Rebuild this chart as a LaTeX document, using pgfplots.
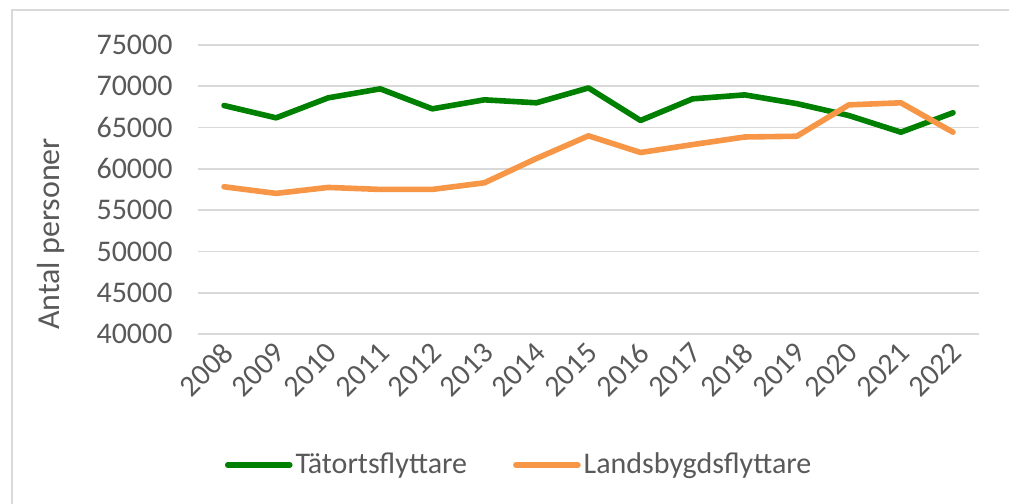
\documentclass[border=0pt]{standalone}
\usepackage{pgfplots}
\pgfplotsset{compat=1.18}
\usepackage{fontspec}
\setmainfont{Carlito}
\definecolor{tgreen}{HTML}{008000}
\definecolor{torange}{HTML}{F79646}
\definecolor{tgrid}{HTML}{D9D9D9}
\definecolor{ttext}{HTML}{595959}
\begin{document}
\fontsize{15}{18}\selectfont
\begin{tikzpicture}
\begin{axis}[
  name=ax,
  scale only axis,
  width=390.5pt, height=144.5pt,
  xmin=-0.5, xmax=14.5,
  ymin=40000, ymax=75000,
  ytick={40000,45000,...,75000},
  xtick={0,...,14},
  xticklabels={2008,2009,2010,2011,2012,2013,2014,2015,2016,2017,2018,2019,2020,2021,2022},
  /pgf/number format/assume math mode=true,
  /pgf/number format/1000 sep={},
  scaled y ticks=false,
  axis line style={draw=none},
  major tick length=0pt,
  ymajorgrids,
  grid style={tgrid, line width=0.9pt},
  tick label style={font=\fontsize{15}{18}\selectfont, text=ttext},
  yticklabel style={anchor=east, inner sep=0pt, xshift=-12.5pt},
  xticklabel style={yshift=-7pt, xshift=2pt, rotate=45, anchor=east, inner sep=0pt},
  ylabel={Antal personer},
  every axis y label/.style={at={(rel axis cs:0,0.346)}, xshift=-73.5pt, rotate=90, anchor=center, font=\fontsize{16}{19}\selectfont, text=ttext},
  legend style={at={(rel axis cs:0.41,0)}, yshift=-65.5pt, anchor=center, draw=none, fill=none,
     font=\fontsize{15}{18}\selectfont, text=ttext, inner sep=0pt,
     nodes={inner sep=0pt},
     /tikz/every odd column/.append style={column sep=1.5pt},
     /tikz/every even column/.append style={column sep=23pt}},
  legend columns=2,
  legend cell align=left,
  legend image code/.code={\draw[#1, line cap=round] (0pt,0pt) -- (31pt,0pt);},
  clip=false,
]
\addplot[tgreen, line width=2.8pt, line join=round, line cap=round] coordinates {
 (0,67670) (1,66180) (2,68600) (3,69690) (4,67270) (5,68360) (6,68000) (7,69800)
 (8,65860) (9,68480) (10,68960) (11,67900) (12,66460) (13,64440) (14,66790)};
\addlegendentry{Tätortsflyttare}
\addplot[torange, line width=2.8pt, line join=round, line cap=round] coordinates {
 (0,57830) (1,57030) (2,57750) (3,57510) (4,57510) (5,58310) (6,61260) (7,64000)
 (8,61980) (9,62940) (10,63860) (11,63950) (12,67750) (13,68000) (14,64440)};
\addlegendentry{Landsbygdsflyttare}
\end{axis}
\draw[tgrid, line width=0.8pt] ([shift={(-93pt,-86pt)}]ax.south west) -- ([shift={(-93pt,162pt)}]ax.south west) -- ([shift={(406pt,162pt)}]ax.south west);
\pgfresetboundingbox
\useasboundingbox ([shift={(-99pt,-85pt)}]ax.south west) rectangle ([shift={(405.5pt,167pt)}]ax.south west);
\end{tikzpicture}
\end{document}
